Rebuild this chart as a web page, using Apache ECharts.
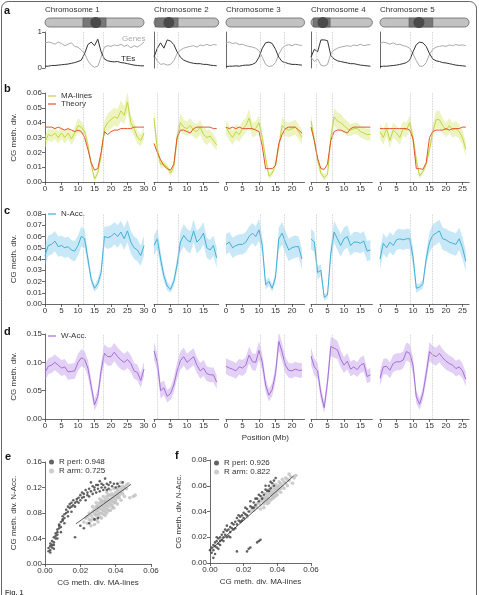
<!DOCTYPE html>
<html>
<head>
<meta charset="utf-8">
<script src="https://cdn.jsdelivr.net/npm/echarts@6/dist/echarts.min.js"></script>
<style>html,body{margin:0;padding:0;background:#fff}#chart{width:479px;height:595px}</style>
</head>
<body>
<div id="chart"></div>
<script>
// ============================= data =============================
// one value per 1 Mb bin, index = position (Mb)
const chromNames = ['Chromosome 1', 'Chromosome 2', 'Chromosome 3', 'Chromosome 4', 'Chromosome 5'];
const chromEnd = [30, 19.6, 23.8, 18.6, 27];
const xTicks = [[0, 5, 10, 15, 20, 25, 30], [0, 5, 10, 15], [0, 5, 10, 15, 20], [0, 5, 10, 15], [0, 5, 10, 15, 20, 25]];
const periStart = [11.7, 0.9, 10.5, 1.5, 9.1];
const periEnd = [17.8, 7.4, 17.5, 6.4, 15.8];
const cenPos = [15.4, 4.5, null, 3.6, 11.8];
const knobStart = [11.5, 0.3, null, 0.6, 8.8];
const knobEnd = [18.5, 7.3, null, 5.8, 16];

const genes = [
  [0.70,0.72,0.70,0.66,0.72,0.68,0.62,0.66,0.70,0.60,0.58,0.50,0.40,0.20,0.08,0.02,0.05,0.30,0.58,0.62,0.60,0.64,0.62,0.66,0.60,0.64,0.56,0.62,0.58,0.64,0.72],
  [0.35,0.20,0.10,0.12,0.08,0.10,0.20,0.40,0.50,0.55,0.58,0.60,0.62,0.58,0.64,0.62,0.66,0.62,0.65,0.64],
  [0.70,0.72,0.68,0.70,0.65,0.66,0.62,0.60,0.58,0.55,0.48,0.30,0.10,0.04,0.06,0.15,0.38,0.55,0.62,0.65,0.62,0.66,0.64,0.62],
  [0.30,0.18,0.25,0.08,0.05,0.10,0.40,0.50,0.55,0.58,0.60,0.62,0.60,0.64,0.62,0.66,0.62,0.64,0.65],
  [0.68,0.72,0.70,0.66,0.70,0.65,0.66,0.62,0.60,0.55,0.40,0.20,0.05,0.05,0.15,0.38,0.52,0.58,0.60,0.62,0.60,0.64,0.62,0.65,0.63,0.64,0.62]
];
const tes = [
  [0.05,0.05,0.07,0.07,0.08,0.09,0.10,0.11,0.13,0.15,0.18,0.22,0.40,0.65,0.72,0.62,0.80,0.45,0.25,0.20,0.18,0.17,0.18,0.15,0.14,0.12,0.10,0.08,0.07,0.06,0.06],
  [0.30,0.55,0.70,0.55,0.78,0.75,0.65,0.45,0.30,0.22,0.18,0.15,0.13,0.12,0.12,0.10,0.10,0.08,0.07,0.06],
  [0.04,0.05,0.05,0.06,0.05,0.07,0.08,0.08,0.10,0.15,0.30,0.55,0.70,0.72,0.68,0.52,0.30,0.18,0.15,0.12,0.10,0.10,0.09,0.08],
  [0.30,0.52,0.45,0.78,0.78,0.76,0.35,0.25,0.20,0.18,0.16,0.14,0.12,0.12,0.10,0.08,0.07,0.06,0.05],
  [0.04,0.05,0.05,0.06,0.07,0.08,0.10,0.12,0.15,0.22,0.45,0.65,0.72,0.70,0.60,0.40,0.25,0.20,0.18,0.15,0.14,0.12,0.10,0.08,0.07,0.06,0.05]
];

const maMean = [
  [0.027,0.032,0.031,0.033,0.030,0.033,0.030,0.033,0.029,0.033,0.038,0.037,0.034,0.025,0.012,0.002,0.006,0.018,0.036,0.040,0.042,0.044,0.043,0.048,0.045,0.054,0.040,0.036,0.030,0.028,0.033],
  [0.043,0.022,0.012,0.012,0.010,0.006,0.010,0.030,0.040,0.037,0.036,0.038,0.035,0.034,0.037,0.032,0.030,0.031,0.028,0.025],
  [0.037,0.033,0.030,0.034,0.032,0.036,0.038,0.043,0.035,0.036,0.040,0.030,0.016,0.004,0.006,0.012,0.024,0.038,0.036,0.035,0.036,0.037,0.034,0.030],
  [0.041,0.028,0.015,0.006,0.003,0.005,0.030,0.044,0.041,0.040,0.038,0.036,0.035,0.036,0.036,0.034,0.033,0.032,0.032],
  [0.034,0.030,0.036,0.028,0.035,0.033,0.030,0.036,0.035,0.040,0.030,0.015,0.004,0.007,0.012,0.022,0.034,0.042,0.042,0.038,0.035,0.038,0.035,0.036,0.034,0.030,0.022]
];
const maSd = [
  [0.004,0.004,0.004,0.004,0.004,0.004,0.004,0.004,0.004,0.004,0.005,0.004,0.003,0.003,0.002,0.002,0.002,0.003,0.005,0.006,0.006,0.006,0.006,0.007,0.006,0.007,0.005,0.005,0.004,0.004,0.004],
  [0.005,0.004,0.003,0.002,0.002,0.002,0.003,0.005,0.006,0.005,0.005,0.005,0.005,0.005,0.005,0.005,0.005,0.004,0.004,0.004],
  [0.005,0.005,0.005,0.005,0.005,0.005,0.005,0.006,0.005,0.005,0.005,0.004,0.003,0.002,0.002,0.003,0.004,0.006,0.005,0.005,0.005,0.005,0.005,0.005],
  [0.005,0.004,0.003,0.002,0.002,0.002,0.004,0.006,0.006,0.006,0.005,0.005,0.004,0.004,0.004,0.004,0.004,0.004,0.004],
  [0.005,0.005,0.005,0.005,0.005,0.005,0.005,0.005,0.005,0.005,0.004,0.003,0.002,0.002,0.002,0.003,0.005,0.006,0.006,0.005,0.005,0.005,0.005,0.005,0.005,0.005,0.005]
];
const theory = [
  [0.037,0.037,0.037,0.036,0.037,0.036,0.035,0.036,0.035,0.034,0.035,0.034,0.030,0.022,0.013,0.008,0.009,0.020,0.034,0.032,0.034,0.035,0.035,0.036,0.036,0.036,0.036,0.037,0.037,0.037,0.037],
  [0.026,0.020,0.015,0.011,0.009,0.008,0.012,0.030,0.035,0.035,0.034,0.033,0.036,0.037,0.037,0.037,0.037,0.037,0.036,0.036],
  [0.037,0.036,0.037,0.036,0.037,0.036,0.036,0.036,0.036,0.035,0.034,0.024,0.009,0.009,0.009,0.011,0.026,0.032,0.036,0.037,0.037,0.037,0.035,0.033],
  [0.037,0.028,0.016,0.009,0.0085,0.012,0.028,0.034,0.035,0.035,0.034,0.033,0.036,0.037,0.037,0.037,0.037,0.037,0.037],
  [0.036,0.036,0.036,0.036,0.036,0.036,0.036,0.036,0.036,0.035,0.029,0.009,0.009,0.0085,0.013,0.030,0.034,0.035,0.035,0.035,0.036,0.035,0.036,0.036,0.036,0.037,0.037]
];

const nMean = [
  [0.043,0.052,0.053,0.056,0.051,0.052,0.050,0.051,0.048,0.047,0.052,0.060,0.058,0.040,0.022,0.014,0.018,0.028,0.060,0.059,0.060,0.063,0.060,0.064,0.058,0.065,0.055,0.050,0.048,0.043,0.052],
  [0.052,0.058,0.040,0.025,0.016,0.013,0.020,0.035,0.055,0.061,0.057,0.055,0.065,0.055,0.058,0.063,0.050,0.048,0.052,0.041],
  [0.053,0.055,0.050,0.052,0.053,0.053,0.055,0.060,0.063,0.060,0.066,0.052,0.017,0.020,0.014,0.024,0.058,0.063,0.055,0.048,0.050,0.051,0.051,0.040],
  [0.058,0.055,0.028,0.030,0.006,0.008,0.045,0.064,0.058,0.052,0.058,0.060,0.052,0.055,0.055,0.054,0.056,0.047,0.048],
  [0.040,0.054,0.050,0.055,0.052,0.057,0.058,0.057,0.058,0.058,0.042,0.014,0.015,0.018,0.040,0.055,0.061,0.063,0.065,0.058,0.057,0.055,0.054,0.053,0.058,0.050,0.038]
];
const nSd = [
  [0.009,0.009,0.009,0.009,0.009,0.009,0.009,0.009,0.009,0.009,0.009,0.009,0.008,0.006,0.004,0.003,0.004,0.005,0.009,0.010,0.010,0.010,0.010,0.010,0.010,0.010,0.010,0.010,0.010,0.009,0.009],
  [0.009,0.009,0.007,0.005,0.004,0.003,0.004,0.006,0.009,0.010,0.010,0.010,0.010,0.010,0.010,0.010,0.009,0.009,0.009,0.009],
  [0.009,0.009,0.009,0.009,0.009,0.009,0.009,0.009,0.009,0.009,0.010,0.008,0.004,0.004,0.003,0.005,0.010,0.010,0.010,0.010,0.010,0.010,0.009,0.009],
  [0.009,0.009,0.006,0.005,0.003,0.003,0.007,0.010,0.010,0.010,0.010,0.010,0.009,0.009,0.009,0.009,0.009,0.009,0.009],
  [0.009,0.009,0.009,0.009,0.009,0.009,0.009,0.009,0.009,0.009,0.008,0.004,0.003,0.004,0.006,0.009,0.010,0.010,0.010,0.010,0.010,0.010,0.010,0.010,0.010,0.010,0.009]
];

const wMean = [
  [0.082,0.093,0.095,0.100,0.095,0.090,0.092,0.083,0.084,0.085,0.100,0.108,0.105,0.090,0.058,0.025,0.040,0.085,0.116,0.110,0.110,0.118,0.110,0.104,0.100,0.105,0.098,0.085,0.082,0.068,0.088],
  [0.120,0.100,0.050,0.055,0.040,0.045,0.060,0.085,0.103,0.110,0.100,0.105,0.110,0.095,0.085,0.090,0.080,0.078,0.078,0.065],
  [0.093,0.090,0.088,0.085,0.092,0.090,0.095,0.113,0.101,0.100,0.121,0.100,0.060,0.042,0.052,0.080,0.137,0.118,0.095,0.086,0.085,0.088,0.086,0.086],
  [0.111,0.092,0.085,0.045,0.020,0.065,0.128,0.125,0.122,0.106,0.095,0.102,0.088,0.092,0.087,0.095,0.098,0.075,0.078],
  [0.072,0.092,0.093,0.086,0.098,0.101,0.101,0.104,0.119,0.116,0.095,0.039,0.026,0.045,0.080,0.119,0.113,0.110,0.116,0.108,0.102,0.098,0.095,0.089,0.092,0.085,0.070]
];
const wSd = [
  [0.014,0.014,0.014,0.014,0.014,0.014,0.014,0.014,0.014,0.014,0.015,0.015,0.015,0.014,0.012,0.010,0.012,0.014,0.016,0.016,0.016,0.016,0.016,0.016,0.015,0.015,0.015,0.014,0.014,0.013,0.013],
  [0.016,0.015,0.014,0.013,0.011,0.011,0.013,0.015,0.016,0.016,0.015,0.015,0.015,0.014,0.014,0.014,0.013,0.013,0.013,0.012],
  [0.014,0.014,0.014,0.014,0.014,0.014,0.014,0.015,0.015,0.015,0.016,0.015,0.013,0.011,0.012,0.014,0.017,0.016,0.014,0.013,0.013,0.013,0.013,0.013],
  [0.015,0.015,0.014,0.012,0.010,0.013,0.017,0.017,0.016,0.015,0.014,0.014,0.013,0.013,0.013,0.014,0.014,0.012,0.012],
  [0.013,0.014,0.014,0.014,0.015,0.015,0.015,0.015,0.016,0.016,0.015,0.011,0.010,0.011,0.014,0.017,0.016,0.016,0.016,0.015,0.015,0.014,0.014,0.014,0.014,0.013,0.012]
];

// scatter e: [MA-lines, N-Acc.]
const ePeri = [
  [0.002,0.020],[0.002,0.025],[0.003,0.018],[0.003,0.028],[0.003,0.022],[0.004,0.030],[0.004,0.036],[0.004,0.026],
  [0.005,0.034],[0.005,0.042],[0.005,0.030],[0.006,0.040],[0.006,0.048],[0.006,0.044],[0.007,0.046],[0.007,0.054],
  [0.007,0.050],[0.008,0.056],[0.008,0.062],[0.008,0.060],[0.009,0.058],[0.009,0.066],[0.010,0.068],[0.010,0.075],
  [0.010,0.070],[0.011,0.078],[0.011,0.072],[0.012,0.080],[0.012,0.085],[0.013,0.082],[0.013,0.090],[0.014,0.088],
  [0.014,0.094],[0.015,0.090],[0.015,0.096],[0.016,0.092],[0.016,0.100],[0.017,0.096],[0.018,0.102],[0.018,0.098],
  [0.019,0.104],[0.020,0.100],[0.020,0.108],[0.021,0.104],[0.022,0.110],[0.022,0.105],[0.023,0.100],[0.024,0.112],
  [0.024,0.108],[0.025,0.106],[0.026,0.114],[0.026,0.128],[0.027,0.110],[0.028,0.116],[0.028,0.120],[0.029,0.112],
  [0.030,0.118],[0.030,0.124],[0.031,0.114],[0.031,0.130],[0.032,0.120],[0.033,0.124],[0.033,0.116],[0.034,0.120],
  [0.034,0.134],[0.035,0.126],[0.036,0.118],[0.036,0.124],[0.037,0.128],[0.038,0.122],[0.039,0.126],[0.040,0.120],
  [0.041,0.126],[0.042,0.122],[0.044,0.128],
  [0.003,0.032],[0.005,0.024],[0.007,0.040],[0.009,0.050],[0.011,0.064],[0.013,0.075],[0.015,0.082],[0.017,0.090],
  [0.019,0.096],[0.021,0.112],[0.023,0.116],[0.025,0.118],[0.027,0.122],[0.029,0.124],[0.032,0.126],[0.035,0.116],
  [0.017,0.042],[0.020,0.060],[0.022,0.056],[0.025,0.064],[0.028,0.070],[0.030,0.072]
];
const eArm = [
  [0.022,0.066],[0.023,0.072],[0.024,0.064],[0.024,0.075],[0.025,0.070],[0.025,0.080],[0.026,0.068],[0.026,0.076],
  [0.027,0.082],[0.027,0.072],[0.028,0.078],[0.028,0.086],[0.028,0.070],[0.029,0.082],[0.029,0.090],[0.029,0.076],
  [0.030,0.084],[0.030,0.092],[0.030,0.078],[0.031,0.088],[0.031,0.080],[0.031,0.096],[0.032,0.086],[0.032,0.092],
  [0.032,0.100],[0.033,0.084],[0.033,0.090],[0.033,0.098],[0.034,0.094],[0.034,0.088],[0.034,0.102],[0.035,0.092],
  [0.035,0.098],[0.035,0.086],[0.035,0.106],[0.036,0.096],[0.036,0.102],[0.036,0.090],[0.037,0.100],[0.037,0.108],
  [0.037,0.094],[0.038,0.104],[0.038,0.098],[0.038,0.110],[0.039,0.102],[0.039,0.108],[0.039,0.096],[0.040,0.106],
  [0.040,0.112],[0.040,0.100],[0.041,0.110],[0.041,0.104],[0.041,0.116],[0.042,0.108],[0.042,0.114],[0.043,0.112],
  [0.043,0.118],[0.044,0.116],[0.044,0.122],[0.045,0.120],[0.046,0.124],[0.046,0.118],[0.048,0.104],[0.050,0.106],
  [0.051,0.108],[0.047,0.126],[0.043,0.128],[0.041,0.126],
  [0.026,0.060],[0.028,0.062],[0.030,0.066],[0.032,0.072],[0.034,0.076],
  [0.027,0.090],[0.029,0.096],[0.031,0.102],[0.033,0.106],[0.035,0.112],[0.037,0.116],[0.039,0.118],[0.041,0.120],
  [0.029,0.070],[0.031,0.074],[0.033,0.078],[0.035,0.080],[0.037,0.084],[0.039,0.088],[0.041,0.094],[0.043,0.100],
  [0.045,0.106],[0.036,0.108],[0.034,0.082],[0.032,0.080],[0.038,0.092],[0.040,0.096],[0.042,0.104],[0.044,0.110],
  [0.030,0.088],[0.032,0.096],[0.034,0.098],[0.036,0.084],[0.038,0.088]
];
const eFit = [[0.0175, 0.063], [0.0487, 0.125]];

// scatter f: [MA-lines, N-Acc.]
const fPeri = [
  [0.000,0.010],[0.001,0.012],[0.001,0.008],[0.002,0.014],[0.002,0.010],[0.003,0.013],[0.003,0.016],[0.004,0.012],
  [0.004,0.017],[0.005,0.015],[0.005,0.019],[0.006,0.017],[0.006,0.020],[0.007,0.018],[0.007,0.022],[0.008,0.020],
  [0.008,0.024],[0.009,0.022],[0.010,0.025],[0.010,0.020],[0.011,0.026],[0.012,0.024],[0.012,0.028],[0.013,0.027],
  [0.014,0.030],[0.014,0.026],[0.015,0.032],[0.016,0.030],[0.016,0.035],[0.017,0.033],[0.018,0.036],[0.018,0.032],
  [0.019,0.037],[0.020,0.039],[0.021,0.038],[0.022,0.042],[0.023,0.040],[0.024,0.044],[0.025,0.043],[0.026,0.047],
  [0.027,0.045],[0.028,0.050],[0.029,0.048],[0.030,0.052],[0.031,0.055],[0.032,0.053],[0.033,0.057],[0.034,0.056],
  [0.035,0.060],[0.036,0.058],[0.037,0.062],[0.038,0.064],
  [0.004,0.020],[0.006,0.014],[0.008,0.017],[0.009,0.026],[0.011,0.021],[0.013,0.031],[0.015,0.027],[0.017,0.037],
  [0.019,0.033],[0.021,0.043],[0.022,0.037],[0.024,0.048],[0.026,0.043],[0.027,0.050],[0.029,0.053],[0.031,0.050],
  [0.033,0.060],[0.035,0.056],[0.036,0.063],[0.038,0.060],[0.039,0.066],[0.012,0.020],[0.010,0.029],[0.005,0.011],[0.020,0.035],
  [0.002,0.004],[0.003,0.007],[0.022,0.009],[0.023,0.011],[0.024,0.012],[0.028,0.016],[0.029,0.017],[0.030,0.018],[0.016,0.009]
];
const fArm = [
  [0.018,0.032],[0.020,0.034],[0.022,0.036],[0.024,0.040],[0.025,0.042],[0.026,0.041],[0.027,0.044],[0.028,0.046],
  [0.028,0.043],[0.029,0.047],[0.030,0.045],[0.030,0.049],[0.031,0.048],[0.032,0.050],[0.032,0.046],[0.033,0.051],
  [0.033,0.048],[0.034,0.052],[0.034,0.049],[0.035,0.054],[0.035,0.050],[0.036,0.053],[0.036,0.056],[0.037,0.052],
  [0.037,0.055],[0.038,0.057],[0.038,0.054],[0.039,0.058],[0.039,0.055],[0.040,0.059],[0.040,0.056],[0.041,0.060],
  [0.042,0.058],[0.042,0.062],[0.043,0.060],[0.044,0.063],[0.045,0.062],[0.046,0.065],[0.047,0.064],[0.048,0.067],
  [0.050,0.066],[0.051,0.068],[0.049,0.062],
  [0.030,0.042],[0.032,0.043],[0.034,0.046],[0.036,0.049],[0.038,0.051],[0.040,0.053],[0.042,0.055],[0.044,0.058],
  [0.046,0.060],[0.031,0.051],[0.033,0.054],[0.035,0.057],[0.037,0.059],[0.039,0.061],[0.041,0.063],[0.043,0.065],
  [0.045,0.066],[0.047,0.069],[0.035,0.047],[0.037,0.050],[0.039,0.052],[0.041,0.057]
];
const fFit = [[0.0, 0.010], [0.050, 0.068]];

// ============================= layout / style =============================
const FONT = 'Liberation Sans, Arial, sans-serif';
const AXIS_COLOR = '#444';
const chromLeft = [45, 154, 226, 311, 380];
const pxPerMb = 3.3;
const rowPos = { ideo: [18, 9], a: [32, 36], b: [93, 89], c: [214, 90], d: [334, 85] };

const grid = [], xAxis = [], yAxis = [], series = [];

function addGrid(g, xa, ya) {
    grid.push(g);
    const idx = grid.length - 1;
    xa.gridIndex = idx;
    ya.gridIndex = idx;
    xAxis.push(xa);
    yAxis.push(ya);
    return idx;
}

function line(v) {
    return { show: v, lineStyle: { color: AXIS_COLOR, width: 0.8 } };
}
function ticks(v, values) {
    const t = { show: v, length: 3, lineStyle: { color: AXIS_COLOR, width: 0.8 } };
    if (values) t.customValues = values;
    return t;
}
function labels(v, fmt, values) {
    const l = { show: v, fontSize: 8, color: '#333', fontFamily: FONT, margin: 3 };
    if (fmt) l.formatter = fmt;
    if (values) l.customValues = values;
    return l;
}
const fmt2 = v => v.toFixed(2);

function pairs(arr) {
    return arr.map((v, k) => [k, v]);
}

function bandSeries(mean, sd, fill, idx) {
    return {
        type: 'custom', xAxisIndex: idx, yAxisIndex: idx, clip: true, silent: true,
        data: [[0, 0]],
        renderItem: function (params, api) {
            const up = mean.map((v, k) => api.coord([k, v + sd[k]]));
            const lo = mean.map((v, k) => api.coord([k, v - sd[k]])).reverse();
            return { type: 'polygon', shape: { points: up.concat(lo) }, style: { fill: fill } };
        }
    };
}

function lineSeries(name, data, color, idx, withPeri, i) {
    const s = {
        name: name, type: 'line', xAxisIndex: idx, yAxisIndex: idx, symbol: 'none',
        data: pairs(data), itemStyle: { color: color },
        lineStyle: { color: color, width: 1 }, silent: true, z: 3
    };
    if (withPeri) {
        s.markLine = {
            silent: true, symbol: 'none', label: { show: false },
            lineStyle: { color: '#c4c4c4', type: 'dotted', width: 0.8 },
            data: [{ xAxis: periStart[i] }, { xAxis: periEnd[i] }]
        };
    }
    return s;
}

function ideogram(i) {
    return function (params, api) {
        const p0 = api.coord([0, 1]);
        const p1 = api.coord([chromEnd[i], 0]);
        const h = p1[1] - p0[1];
        const kids = [{
            type: 'rect', shape: { x: p0[0], y: p0[1], width: p1[0] - p0[0], height: h, r: h / 2 },
            style: { fill: '#c2c2c2', stroke: '#666', lineWidth: 0.8 }
        }];
        if (cenPos[i] !== null) {
            const k0 = api.coord([knobStart[i], 1]);
            const k1 = api.coord([knobEnd[i], 0]);
            kids.push({ type: 'rect', shape: { x: k0[0], y: k0[1], width: k1[0] - k0[0], height: h },
                style: { fill: '#777', stroke: '#555', lineWidth: 0.6 } });
            const c = api.coord([cenPos[i], 0.5]);
            kids.push({ type: 'circle', shape: { cx: c[0], cy: c[1], r: 5.5 }, style: { fill: '#4a4a4a' } });
        }
        return { type: 'group', children: kids };
    };
}

const yRange = { b: [0.06, 0.01], c: [0.08, 0.01], d: [0.15, 0.05] };

for (let i = 0; i < 5; i++) {
    const left = chromLeft[i];
    const width = chromEnd[i] * pxPerMb;

    // ideogram
    let idx = addGrid({ left: left, top: rowPos.ideo[0], width: width, height: rowPos.ideo[1] },
        { type: 'value', min: 0, max: chromEnd[i], show: false },
        { type: 'value', min: 0, max: 1, show: false });
    series.push({ type: 'custom', xAxisIndex: idx, yAxisIndex: idx, silent: true, data: [[0, 0]], renderItem: ideogram(i) });

    // a: genes / TEs
    idx = addGrid({ left: left, top: rowPos.a[0], width: width, height: rowPos.a[1] },
        { type: 'value', min: 0, max: chromEnd[i], axisLine: line(false), axisTick: ticks(false), axisLabel: labels(false), splitLine: { show: false } },
        { type: 'value', min: 0, max: 1, interval: 1, axisLine: line(true), axisTick: ticks(i === 0), axisLabel: labels(i === 0), splitLine: { show: false } });
    series.push(lineSeries('Genes', genes[i], '#a9a9a9', idx, true, i));
    series.push(lineSeries('TEs', tes[i], '#333', idx, false, i));

    // b, c, d
    ['b', 'c', 'd'].forEach(function (p) {
        const ya = {
            type: 'value', min: 0, max: yRange[p][0], interval: yRange[p][1],
            axisLine: line(i === 0), axisTick: ticks(i === 0), axisLabel: labels(i === 0, fmt2), splitLine: { show: false }
        };
        if (i === 0) {
            ya.name = 'CG meth. div.';
            ya.nameLocation = 'middle';
            ya.nameGap = 27;
            ya.nameTextStyle = { fontSize: 8, color: '#333', fontFamily: FONT };
        }
        const xa = {
            type: 'value', min: 0, max: chromEnd[i],
            axisLine: line(true), axisTick: ticks(true, xTicks[i]), axisLabel: labels(true, null, xTicks[i]), splitLine: { show: false }
        };
        if (p === 'd' && i === 2) {
            xa.name = 'Position (Mb)';
            xa.nameLocation = 'middle';
            xa.nameGap = 15;
            xa.nameTextStyle = { fontSize: 8, color: '#333', fontFamily: FONT };
        }
        const id = addGrid({ left: left, top: rowPos[p][0], width: width, height: rowPos[p][1] }, xa, ya);
        if (p === 'b') {
            series.push(bandSeries(maMean[i], maSd[i], 'rgba(216,230,120,0.45)', id));
            series.push(lineSeries('MA-lines', maMean[i], '#c3d63c', id, true, i));
            series.push(lineSeries('Theory', theory[i], '#e2532d', id, false, i));
        } else if (p === 'c') {
            series.push(bandSeries(nMean[i], nSd[i], 'rgba(125,200,236,0.42)', id));
            series.push(lineSeries('N-Acc.', nMean[i], '#3fb0d8', id, true, i));
        } else {
            series.push(bandSeries(wMean[i], wSd[i], 'rgba(192,150,236,0.45)', id));
            series.push(lineSeries('W-Acc.', wMean[i], '#a46fd6', id, true, i));
        }
    });
}

// scatter panels
function scatterPanel(g, yMax, yInt, arm, peri, fit, armName, periName) {
    const idx = addGrid(g,
        { type: 'value', min: 0, max: 0.06, interval: 0.02, axisLine: line(true), axisTick: ticks(true), axisLabel: labels(true, fmt2),
          splitLine: { show: false }, name: 'CG meth. div. MA-lines', nameLocation: 'middle', nameGap: 15,
          nameTextStyle: { fontSize: 8, color: '#333', fontFamily: FONT } },
        { type: 'value', min: 0, max: yMax, interval: yInt, axisLine: line(true), axisTick: ticks(true), axisLabel: labels(true, fmt2),
          splitLine: { show: false }, name: 'CG meth. div. N-Acc.', nameLocation: 'middle', nameGap: 27,
          nameTextStyle: { fontSize: 8, color: '#333', fontFamily: FONT } });
    series.push({ name: armName, type: 'scatter', xAxisIndex: idx, yAxisIndex: idx, data: arm, symbolSize: 3.6,
        itemStyle: { color: '#bfbfbf' }, silent: true });
    series.push({ name: periName, type: 'scatter', xAxisIndex: idx, yAxisIndex: idx, data: peri, symbolSize: 2.6,
        itemStyle: { color: '#3c3c3c' }, silent: true, z: 3 });
    series.push({ type: 'line', xAxisIndex: idx, yAxisIndex: idx, data: fit, symbol: 'none',
        lineStyle: { color: '#333', width: 0.8 }, silent: true, z: 4 });
}
scatterPanel({ left: 45, top: 462, width: 106, height: 102 }, 0.16, 0.04, eArm, ePeri, eFit, 'R arm: 0.725', 'R peri: 0.948');
scatterPanel({ left: 210, top: 460, width: 101, height: 103 }, 0.08, 0.02, fArm, fPeri, fFit, 'R arm: 0.822', 'R peri: 0.926');

// legends
const legendText = { fontSize: 8, color: '#333', fontFamily: FONT, lineHeight: 8 };
const legend = [
    { data: ['MA-lines', 'Theory'], left: 48, top: 92, orient: 'vertical', icon: 'rect', itemWidth: 8, itemHeight: 1.2, itemGap: 0, textStyle: legendText, selectedMode: false, padding: 0 },
    { data: ['N-Acc.'], left: 48, top: 210, icon: 'rect', itemWidth: 8, itemHeight: 1.2, textStyle: legendText, selectedMode: false, padding: 0 },
    { data: ['W-Acc.'], left: 48, top: 332, icon: 'rect', itemWidth: 8, itemHeight: 1.2, textStyle: legendText, selectedMode: false, padding: 0 },
    { data: ['R peri: 0.948', 'R arm: 0.725'], left: 49, top: 458, orient: 'vertical', icon: 'circle', itemWidth: 5, itemHeight: 5, itemGap: 1, textStyle: legendText, selectedMode: false, padding: 0 },
    { data: ['R peri: 0.926', 'R arm: 0.822'], left: 214, top: 459, orient: 'vertical', icon: 'circle', itemWidth: 5, itemHeight: 5, itemGap: 1, textStyle: legendText, selectedMode: false, padding: 0 }
];

// texts
const graphic = [
    { type: 'rect', shape: { x: 1.5, y: 1.5, width: 475, height: 640, r: 7 }, style: { fill: 'none', stroke: '#666', lineWidth: 1 }, silent: true }
];
[['a', 4, 5], ['b', 4, 83], ['c', 4, 205], ['d', 4, 326], ['e', 5, 451], ['f', 175, 450]].forEach(function (t) {
    graphic.push({ type: 'text', x: t[1], y: t[2], style: { text: t[0], fontSize: 11, fontWeight: 'bold', fontFamily: FONT, fill: '#111' }, silent: true });
});
chromNames.forEach(function (n, i) {
    graphic.push({ type: 'text', x: chromLeft[i], y: 6, style: { text: n, fontSize: 8, fontFamily: FONT, fill: '#333' }, silent: true });
});
graphic.push({ type: 'text', x: 122, y: 35, style: { text: 'Genes', fontSize: 8, fontFamily: FONT, fill: '#aaa' }, silent: true });
graphic.push({ type: 'text', x: 121, y: 55, style: { text: 'TEs', fontSize: 8, fontFamily: FONT, fill: '#222' }, silent: true });
graphic.push({ type: 'text', x: 5, y: 590, style: { text: 'Fig. 1', fontSize: 7, fontWeight: 'bold', fontFamily: FONT, fill: '#555' }, silent: true });

const option = {
    animation: false,
    textStyle: { fontFamily: FONT },
    grid: grid,
    xAxis: xAxis,
    yAxis: yAxis,
    legend: legend,
    graphic: graphic,
    series: series
};

echarts.init(document.getElementById('chart'), null, { renderer: 'canvas' }).setOption(option);
</script>
</body>
</html>
